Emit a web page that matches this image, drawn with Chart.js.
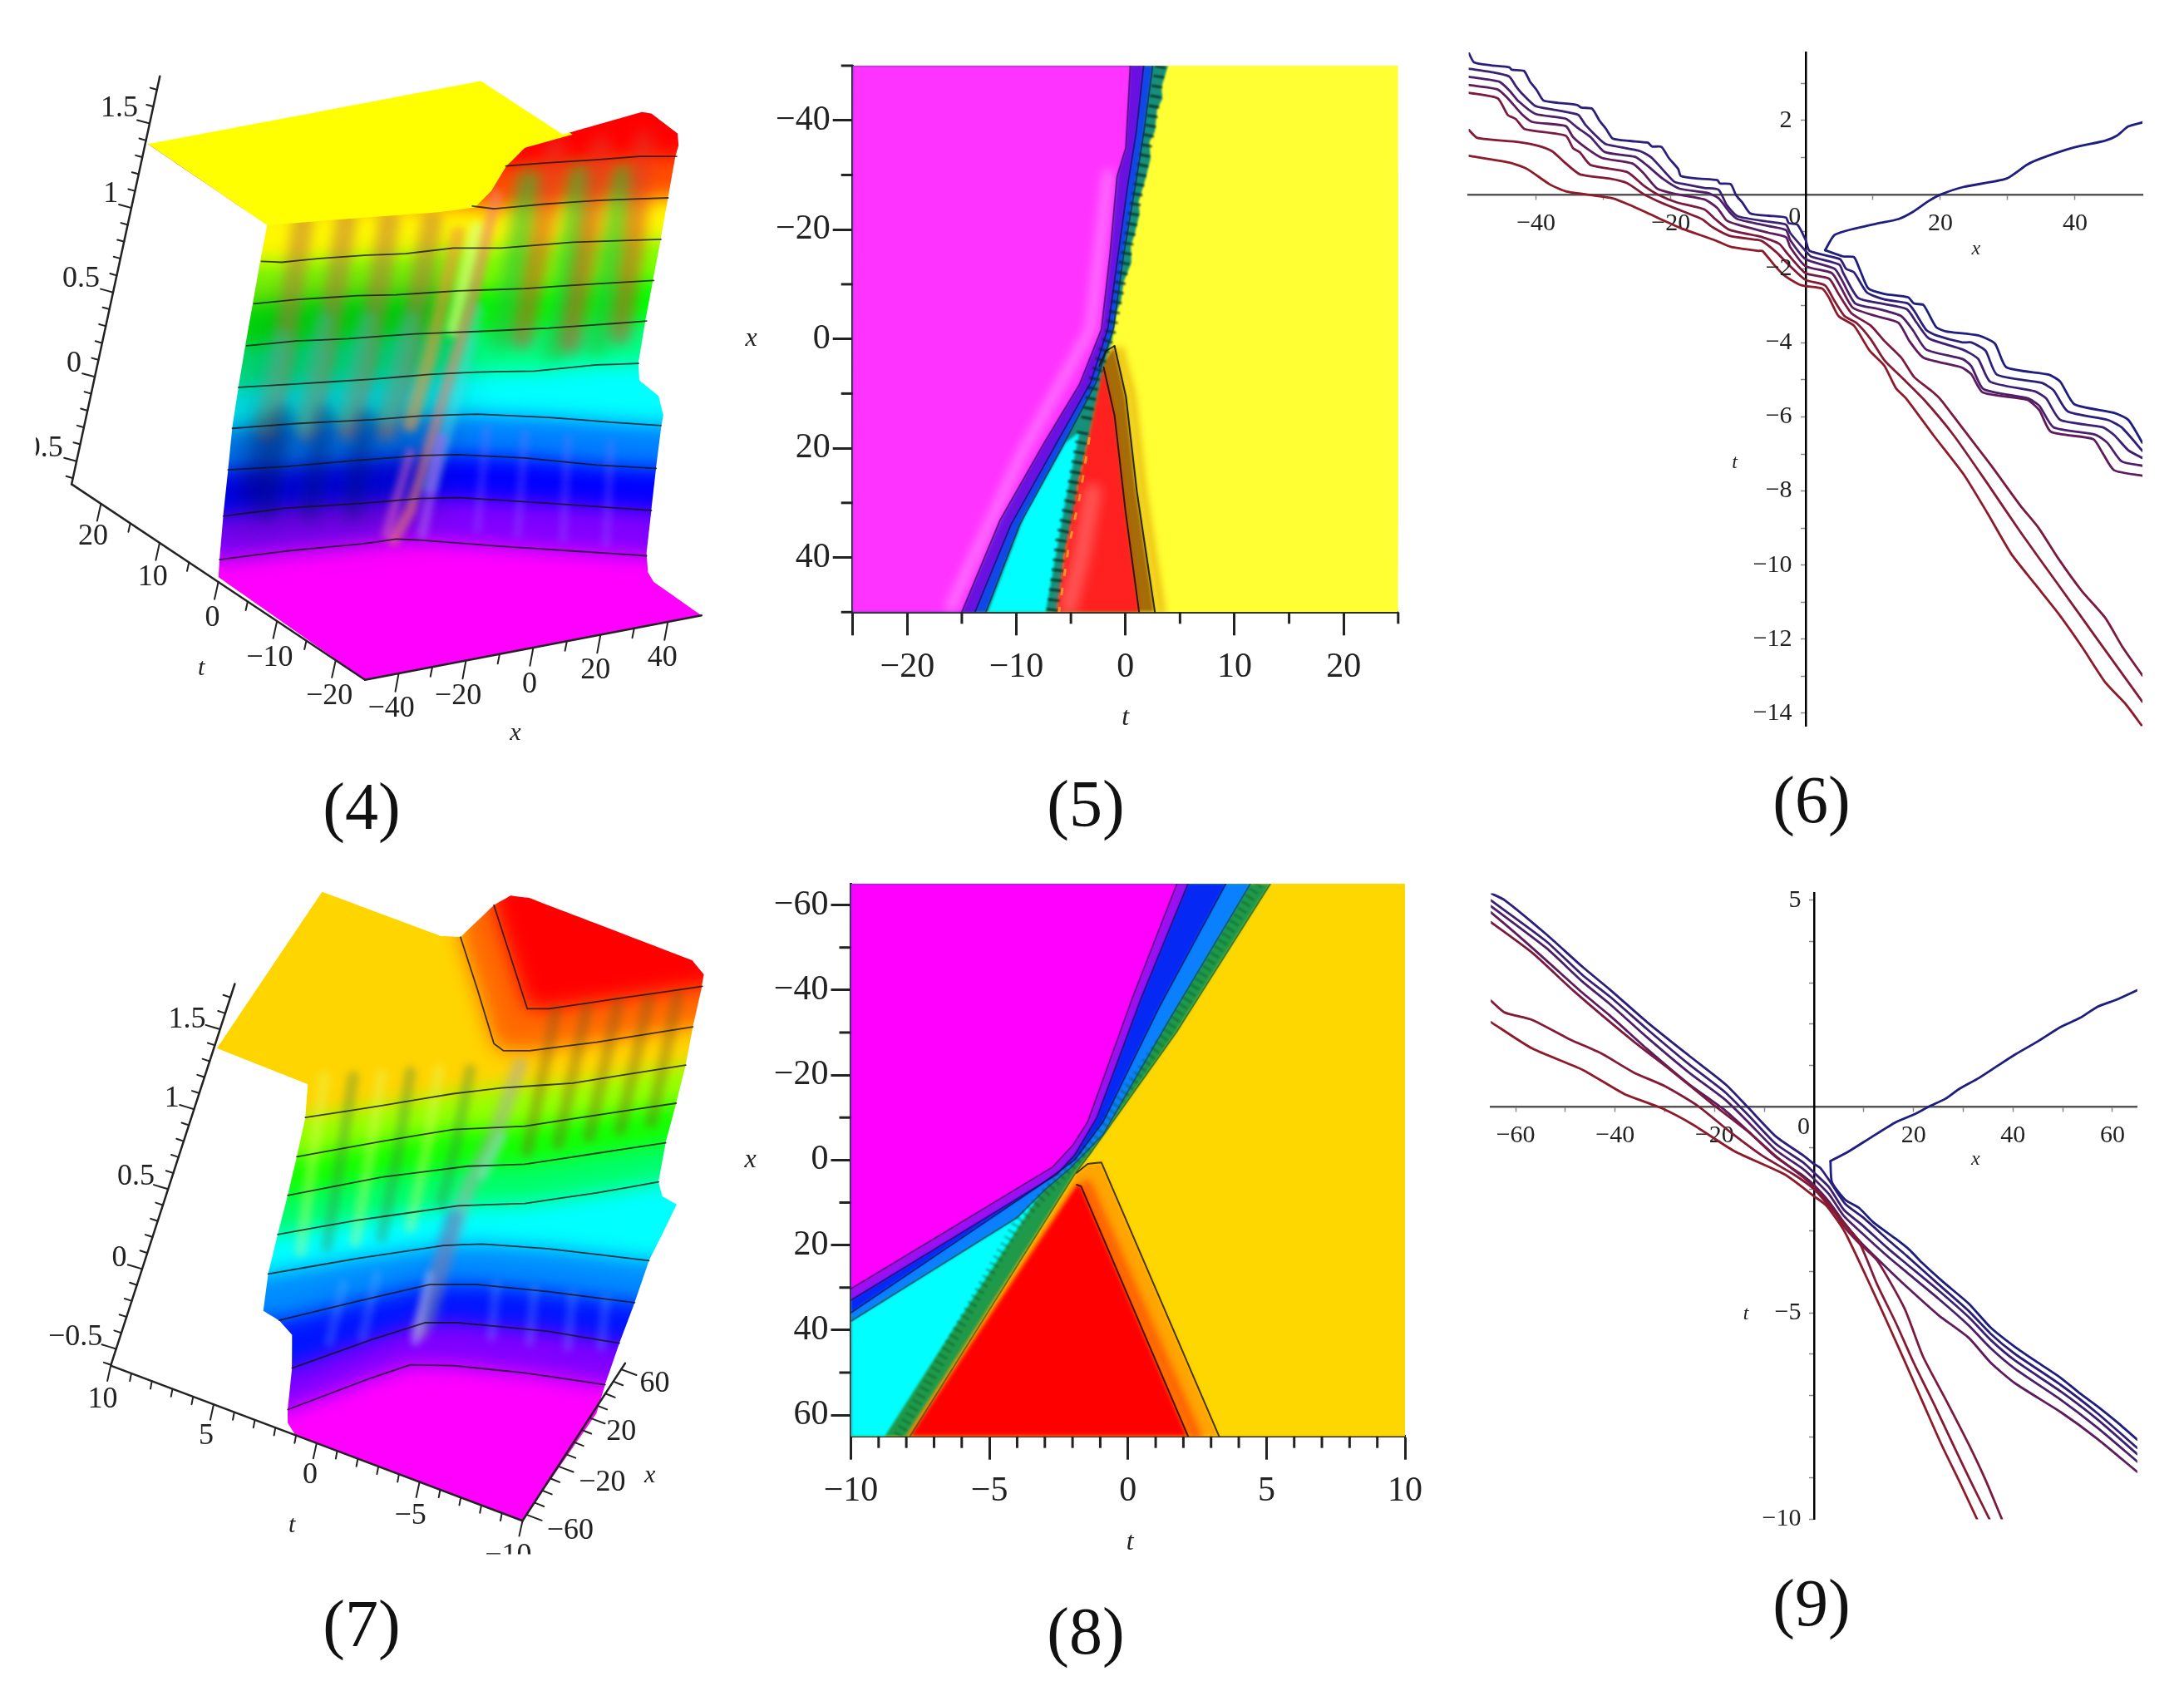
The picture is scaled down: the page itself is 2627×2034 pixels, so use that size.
<!DOCTYPE html>
<html>
<head>
<meta charset="utf-8">
<title>Figure panels 4-9</title>
<script src="https://cdn.jsdelivr.net/npm/chart.js@4/dist/chart.umd.min.js"></script>
<style>
  html, body { margin: 0; background: #fff; }
  #page { position: relative; width: 2627px; height: 2034px; overflow: hidden; background: #fff; }
  canvas { position: absolute; filter: blur(0.6px); }
  .cap { position: absolute; width: 200px; margin-left: -100px; text-align: center; font: 80px/80px "Liberation Serif", serif; color: #111; }
</style>
</head>
<body>
<div id="page">
  <canvas id="p4" width="900" height="900" style="left:0;top:40px"></canvas>
  <canvas id="p7" width="900" height="900" style="left:0;top:1040px"></canvas>
  <canvas id="p5" width="840" height="900" style="left:880px;top:40px"></canvas>
  <canvas id="p8" width="840" height="900" style="left:880px;top:1040px"></canvas>
  <canvas id="p6" width="887" height="900" style="left:1740px;top:40px"></canvas>
  <canvas id="p9" width="867" height="900" style="left:1760px;top:1040px"></canvas>
  <div class="cap" style="left:435px;top:930px">(4)</div>
  <div class="cap" style="left:1306px;top:927px">(5)</div>
  <div class="cap" style="left:2179px;top:922px">(6)</div>
  <div class="cap" style="left:435px;top:1913px">(7)</div>
  <div class="cap" style="left:1306px;top:1922px">(8)</div>
  <div class="cap" style="left:2179px;top:1888px">(9)</div>
</div>
<script>
// ---- panel 6 contours, [x, t] ----
const p6Up = [[2.9,-1.5],[4.3,-1.09],[7.2,-.92],[10.9,-.77],[13.8,-.66],[15.9,-.47],[18.3,-.17],[20,0],[23.5,.21],[29.8,.43],[32.9,.81],[35,.98],[39.6,1.26],[44.5,1.46],[46.2,1.59],[47.9,1.84],[50,1.95]];
const p6V = [[2.9,-1.5],[5.6,-1.67],[7.2,-1.69],[8,-2],[9.3,-2.53],[11.7,-2.68],[15.2,-2.77],[16.1,-2.94],[17.5,-2.98],[19.4,-3.58],[20.8,-3.69],[25.6,-3.8],[28.1,-4.02],[29.8,-4.66],[36.1,-4.86],[37.8,-5.05],[39.9,-5.66],[45.8,-5.89],[47.9,-6.08],[50,-6.7]];
const p6A = [[-50,3.83],[-49.2,3.57],[-46.7,3.49],[-44,3.44],[-43.6,3.37],[-41.8,3.34],[-40.9,3.05],[-39.9,2.82],[-38.9,2.54],[-36.8,2.48],[-33.9,2.42],[-33.3,2.35],[-31.7,2.32],[-30.6,2],[-29.6,1.77],[-28.6,1.51],[-26.1,1.45],[-23.4,1.4],[-22.8,1.3],[-21.4,1.29],[-20.3,.99],[-18.9,.69],[-18.5,.5],[-15.8,.43],[-13.1,.39],[-12.7,.3],[-11.1,.28],[-10.3,-.02],[-9.4,-.21],[-8.2,-.51],[-5.5,-.57],[-2.9,-.62],[-2.5,-.77],[-1.2,-.81],[0,-1.22],[.6,-1.52],[5.1,-1.74],[6,-2],[7.2,-2.1],[9.1,-2.64],[11.7,-2.83],[15.2,-2.94],[16.1,-3.13],[17.9,-3.65],[19.4,-3.8],[23.3,-3.99],[24.6,-3.99],[26.7,-4.21],[28.4,-4.86],[35,-5.08],[36.8,-5.28],[38.9,-5.85],[44.8,-6.08],[46.9,-6.28],[50,-6.92]];
const p6B = [[-50,3.4],[-46.7,3.31],[-44,3.19],[-43,2.93],[-42,2.71],[-40.1,2.39],[-37.6,2.3],[-35.2,2.22],[-33.7,2.15],[-32.7,1.89],[-30.6,1.5],[-29.6,1.36],[-24.5,1.17],[-22.8,.99],[-19.5,.35],[-17.9,.28],[-15,.18],[-12.9,.13],[-11.7,-.28],[-10.1,-.58],[-5.5,-.73],[-2.9,-.81],[-2.3,-1.03],[0,-1.52],[.8,-1.67],[5,-1.89],[5.6,-2.12],[7.8,-2.79],[11.3,-2.94],[15,-3.09],[16.5,-3.46],[18.3,-3.88],[23.3,-4.18],[25.6,-4.43],[27.4,-5.05],[34,-5.31],[35.7,-5.5],[37.8,-6.08],[44.1,-6.28],[45.8,-6.49],[47.9,-6.9],[50,-7.11]];
const p6C = [[-50,3.18],[-45.5,3.05],[-44,2.82],[-42.6,2.52],[-40.1,2.18],[-35.6,2.05],[-33.9,1.81],[-31.9,1.55],[-29.8,1.15],[-25.3,1.02],[-23.6,.8],[-21.2,.43],[-18.7,.16],[-14.6,.05],[-12.9,-.1],[-11.3,-.47],[-10.1,-.66],[-5.5,-.85],[-2.9,-.96],[-2.3,-1.22],[0,-1.74],[4.3,-2],[5.4,-2.31],[7.4,-2.94],[10.9,-3.09],[14.2,-3.28],[15.9,-3.65],[17.9,-4.18],[23.3,-4.44],[24.6,-4.63],[26.4,-5.25],[33,-5.5],[34.7,-5.7],[36.8,-6.28],[43,-6.48],[44.8,-6.7],[46.9,-7.2],[50,-7.32]];
const p6D = [[-50,2.96],[-45.7,2.84],[-44.2,2.6],[-42,2.15],[-40.5,1.96],[-35.6,1.85],[-34.5,1.55],[-32.5,1.25],[-30.2,.99],[-25.7,.84],[-24,.57],[-22,.16],[-19.1,.01],[-15,-.13],[-13.1,-.36],[-11.7,-.7],[-10.1,-.81],[-5.5,-1.03],[-2.9,-1.15],[-2.3,-1.41],[0,-1.93],[3.9,-2.12],[5.2,-2.49],[7,-3.05],[10.5,-3.28],[13.8,-3.46],[15.4,-3.95],[17.5,-4.4],[23.1,-4.66],[24.6,-4.85],[26.3,-5.34],[32.9,-5.54],[34.7,-5.82],[36.4,-6.4],[42.7,-6.6],[44.1,-6.98],[45.8,-7.44],[50,-7.59]];
const p6E = [[-50,2.75],[-45.7,2.6],[-44.2,2.15],[-43,2.04],[-41.7,1.77],[-35.6,1.59],[-34.5,1.25],[-33.5,1.14],[-31.9,.8],[-26.5,.61],[-24,.24],[-22,.01],[-19.1,-.21],[-15,-.4],[-13.4,-.66],[-11.3,-.95],[-6.4,-1.15],[-3.9,-1.33],[-2.7,-1.59],[0,-2.12],[3.5,-2.27],[4.9,-2.68],[6.8,-3.2],[9.7,-3.54],[11.7,-3.95],[14.2,-4.4],[16.1,-4.92],[18.7,-5.3],[20,-5.52],[23.2,-6.28],[27.5,-7.3],[31.9,-8.4],[34.6,-9],[37.5,-9.82],[41,-10.7],[44.5,-11.43],[47,-12.2],[50,-12.98]];
const p6F = [[-50,1.75],[-48.7,1.53],[-42.6,1.42],[-39.7,1.32],[-37.6,1.17],[-36,.91],[-33.5,.55],[-29,.43],[-26.5,.31],[-24,.01],[-22,-.17],[-19.5,-.36],[-15.4,-.66],[-13.8,-.88],[-11.3,-1.11],[-7.2,-1.22],[-6.4,-1.26],[-4.3,-1.56],[-2.9,-1.82],[0,-2.3],[2.9,-2.45],[4.3,-2.87],[5.8,-3.28],[7.6,-3.47],[9.7,-3.91],[11.7,-4.47],[14.2,-4.92],[17.5,-5.52],[22,-6.5],[27,-7.8],[31.9,-9.11],[37.5,-10.53],[43.1,-11.95],[50,-13.69]];
const p6G = [[-50,1.05],[-43.8,.86],[-41.3,.69],[-38,.28],[-35.6,.09],[-32.7,.01],[-28.6,-.1],[-26.1,-.28],[-22,-.62],[-18.3,-.92],[-13.6,-1.22],[-11.1,-1.41],[-7,-1.52],[-6.4,-1.52],[-4.7,-1.89],[-3.3,-2.16],[-1,-2.42],[0,-2.47],[2.5,-2.54],[3.5,-2.79],[4.9,-3.28],[7.2,-3.54],[9.5,-4.21],[11.7,-4.62],[13.4,-5.22],[15,-5.52],[19,-6.5],[23.5,-7.56],[27,-8.6],[30.5,-9.69],[34,-10.5],[37.5,-11.3],[41,-12.2],[44.5,-13.17],[47.5,-13.75],[50,-14.36]];
const p6XTicks = [-40,-30,-20,-10,10,20,30,40];
const p6TTicks = [3,2,1,-1,-2,-3,-4,-5,-6,-7,-8,-9,-10,-11,-12,-13,-14];
const p6TLabels = [2,-2,-4,-6,-8,-10,-12,-14];

// ---- panel 9 contours, [x, t] ----
const p9Up = [[3.3,-1.32],[6.9,-1.09],[11.4,-.75],[16.4,-.38],[20.3,-.18],[23.1,0],[26.4,.19],[29.2,.43],[33.1,.69],[36.8,.98],[40.4,1.26],[45,1.58],[49.6,1.93],[53.5,2.15],[57,2.42],[61,2.6],[65,2.82]];
const p9V = [[3.3,-1.32],[3.6,-1.83],[6.3,-2.26],[9.1,-2.46],[11.9,-2.8],[16.4,-3.2],[19.2,-3.47],[21.7,-3.78],[26,-4.25],[31.1,-4.77],[35.5,-5.35],[40.4,-5.82],[45,-6.2],[49.6,-6.57],[53.5,-6.95],[57,-7.26],[61,-7.65],[65,-8.07]];
const p9A = [[-65,5.17],[-62.2,5],[-53.9,4.18],[-46.5,3.38],[-41,2.83],[-33.6,2.05],[-25.2,1.24],[-17.8,.54],[-13.2,-.03],[-7.7,-.72],[-2.1,-1.19],[0,-1.39],[1.3,-1.49],[3.3,-1.83],[6.3,-2.36],[9.7,-2.67],[15.3,-3.27],[18.6,-3.61],[25,-4.3],[31.1,-4.95],[35.5,-5.5],[40.4,-5.99],[49.6,-6.74],[57,-7.43],[65,-8.27]];
const p9B = [[-65,5],[-53.9,4.01],[-46.5,3.18],[-41,2.66],[-33.6,1.88],[-25.2,1.03],[-17.8,.34],[-13.2,-.21],[-7.7,-.9],[-2.1,-1.36],[0,-1.6],[3,-1.95],[6,-2.5],[9.5,-2.85],[15,-3.45],[18.5,-3.8],[25,-4.45],[31.1,-5.1],[35.5,-5.65],[40.4,-6.15],[49.6,-6.9],[57,-7.58],[65,-8.42]];
const p9C = [[-65,4.86],[-53.9,3.85],[-46.5,3.02],[-41,2.48],[-33.6,1.68],[-25.2,.83],[-17.8,.16],[-13.2,-.38],[-7.7,-1.05],[-2.1,-1.52],[0,-1.75],[3,-2.12],[6,-2.65],[9.5,-3.05],[15,-3.65],[18.5,-4],[25,-4.65],[31.1,-5.3],[35.5,-5.85],[40.4,-6.35],[49.6,-7.1],[57,-7.78],[65,-8.6]];
const p9D = [[-65,4.71],[-60,4.2],[-53.9,3.55],[-46.5,2.75],[-41,2.2],[-33.6,1.4],[-25.2,.55],[-17.8,-.1],[-13.2,-.6],[-7.7,-1.22],[-2.1,-1.68],[0,-1.9],[3,-2.3],[6,-2.8],[9.5,-3.3],[15,-3.95],[18.5,-4.35],[25,-5.05],[31.1,-5.6],[35.5,-6.2],[40.4,-6.7],[49.6,-7.4],[57,-8.05],[65,-8.85]];
const p9E = [[-65,4.47],[-56.6,3.72],[-48.3,2.8],[-36.3,1.58],[-28.9,.89],[-20.6,.08],[-13.2,-.61],[-7.7,-1.2],[-2.1,-1.72],[0,-1.95],[3,-2.35],[6,-2.9],[9,-3.3],[12.7,-3.73],[18.2,-4.89],[21.9,-6.05],[26.5,-7.1],[31.1,-8.18],[34.5,-9.05],[37.8,-10]];
const p9F = [[-65,2.57],[-62.2,2.28],[-56.7,2.1],[-49.3,1.64],[-42.8,1.29],[-36.3,.83],[-29.9,.49],[-23.4,.02],[-16.9,-.61],[-10.4,-1.19],[-4,-1.65],[0,-2],[3.4,-2.46],[9,-3.27],[12.7,-4.31],[16.5,-5.25],[20.1,-6.22],[24.5,-7.3],[28.4,-8.3],[32,-9.2],[35.3,-10]];
const p9G = [[-65,2.05],[-56.7,1.41],[-46.5,.89],[-38.2,.31],[-30.8,-.03],[-24.3,-.44],[-16,-1.08],[-5.8,-1.65],[0,-2.17],[2.5,-2.4],[6.2,-3.04],[11.7,-4.43],[15,-5.3],[18.2,-6.16],[22,-7.2],[25.6,-8.18],[29.5,-9.15],[32.8,-10]];
const p9XTicks = [-60,-50,-40,-30,-20,-10,10,20,30,40,50,60];
const p9TTicks = [5,4,3,2,1,-1,-2,-3,-4,-5,-6,-7,-8,-9,-10];
const p9TLabels = [5,-5,-10];

// ---- panel 5 regions, [t, x] ----
const p5Magenta = [[.45,-50],[.04,-35],[-.77,-29.7],[-1.4,-15.7],[-2.2,-1.75],[-4.2,8.3],[-7.5,19.2],[-11.5,33.2],[-15,50]];
const p5Inner1 = [[1.67,-50],[1,-38],[.2,-28],[-.7,-15],[-1.6,-2],[-3.2,8],[-6.3,19],[-10.5,34],[-13.8,50]];
const p5Inner2 = [[2.5,-50],[1.7,-38],[.9,-28],[-.2,-15],[-1.1,-2],[-2.7,8],[-5.6,19],[-9.7,34],[-12.8,50]];
const p5Yellow = [[3.9,-50],[3.3,-46],[3.4,-44],[2.9,-42],[2.7,-38],[2.2,-36],[2.3,-33],[1.9,-29.7],[1.5,-27],[1.2,-25],[1.3,-23],[.85,-19.2],[.5,-17],[.55,-14],[-.16,-10.5],[-.4,-7],[-.8,-5],[-1.2,0],[-2,5],[-3.2,16.6],[-3.6,20],[-4.4,27],[-4.6,31],[-5.65,40],[-5.8,44],[-6.3,50]];
const p5Cyan = [[-4.2,17],[-5.65,31.5],[-7.3,50],[-12.6,50],[-9.2,32],[-5.5,19]];
const p5Brown = [[-1,1.3],[.04,10.5],[1.05,28],[2.7,50],[-6.3,50],[-2.2,4.5]];
const p5Red = [[-2,5.2],[-1,14],[0,31.5],[1.25,50],[-6.3,50],[-5.65,40],[-4.4,27],[-3.2,16.6]];
const p5Comb1 = [[3.2,-50],[2.4,-40],[1.3,-29],[.4,-19],[-.5,-10],[-1.4,-1],[-2.8,7],[-3.6,15]];
const p5Comb2 = [[-3.9,17],[-4.9,28],[-5.9,37],[-6.7,50]];
const p5Spark = [[-3.3,18],[-4.2,29],[-5.2,38],[-6.1,50]];
const p5Crest = [[-1,1.3],[.04,10.5],[1.05,28],[2.7,50]];
const p5CrestGlow = [[-.5,2],[.6,10.5],[1.6,28],[3.3,50]];
const p5RedEdge = [[-2,5.2],[-1,14],[0,31.5],[1.25,50]];
const p5Apex = [[-2.4,5],[-1.8,2.2],[-1,1.3]];
const p5Glow = [[-1.6,-30],[-2.1,-21],[-3.2,-1.75],[-9.5,21],[-16,49]];
const p5RedGlow = [[-3,28],[-4,39.4],[-5.2,49]];

// ---- panel 8 regions, [t, x] ----
const p8Magenta = [[1.77,-65],[.16,-38.1],[-1.45,-9],[-2,-3.4],[-2.73,1.7],[-10,30.3]];
const p8Purple = [[2.17,-65],[.48,-38.1],[-1.12,-10],[-1.93,-1.1],[-2.57,3.4],[-10,33]];
const p8Blue = [[3.53,-65],[1.12,-35.9],[-.9,-9],[-1.93,0],[-3.2,6],[-10,35.9]];
const p8Azure = [[4.42,-65],[1.4,-32],[-.9,-6],[-2.1,2],[-3,7],[-4,13.5],[-10,37.9]];
const p8Green = [[5.14,-65],[1.77,-30.3],[-1.29,-2.2],[-1.93,3.4],[-7.87,65]];
const p8Cyan = [[-3.05,6.7],[-8.76,65],[-10,65],[-10,37.9],[-4,13.5]];
const p8Orange = [[-8,65],[-1.85,3],[-1.45,.9],[-.96,.56],[3.29,65]];
const p8Red = [[-7.87,65],[-1.85,5.8],[-1.69,6.2],[2.17,65]];
const p8Comb = [[4.7,-65],[1.45,-30.3],[-1.6,-2],[-2.6,5],[-4,15],[-8.3,65]];
const p8Ember = [[-1.5,6],[2.45,65]];

// ---- panel 4 surface, picture plane of the 3D view ----
const s4Outline = [[310,232],[1008,100],[1180,212],[1345,165],[1365,168],[1420,210],[1422,235],[1415,260],[1400,345],[1385,430],[1368,520],[1352,605],[1338,690],[1340,728],[1380,760],[1390,800],[1385,830],[1375,910],[1365,1000],[1355,1090],[1358,1130],[1370,1150],[1470,1220],[765,1355],[458,1140],[460,1105],[468,1010],[478,915],[487,825],[500,740],[515,650],[530,565],[545,480],[560,402]];
const s4Plateau = [[300,225],[1008,90],[1200,212],[1100,240],[1060,280],[1030,330],[995,365],[920,375],[740,388],[560,402]];
const s4Contours = [
  [[1060,278],[1140,272],[1250,265],[1340,258],[1418,258]],
  [[990,362],[1035,368],[1140,358],[1260,350],[1400,345]],
  [[548,478],[590,480],[670,472],[770,465],[850,462],[950,450],[1050,450],[1200,438],[1385,432]],
  [[532,567],[620,558],[750,550],[830,548],[960,540],[1100,535],[1250,525],[1370,518]],
  [[517,655],[620,645],[730,640],[870,630],[1000,625],[1150,618],[1290,608],[1355,603]],
  [[500,742],[620,735],[780,725],[900,715],[1000,710],[1120,708],[1250,695],[1338,692]],
  [[487,828],[620,818],[780,810],[880,802],[1000,798],[1150,805],[1280,815],[1385,822]],
  [[478,915],[600,908],[750,895],[880,885],[960,883],[1100,890],[1250,905],[1375,912]],
  [[468,1012],[600,995],[760,985],[880,975],[960,973],[1150,985],[1365,1000]],
  [[460,1103],[600,1085],[760,1070],[830,1060],[880,1062],[1050,1075],[1200,1085],[1355,1095]]
];
const s4Hues = [18, 58, 90, 120, 150, 180, 210, 240, 270, 300];
const s4Dim = [[470,540],[1000,500],[900,1040],[460,1070]];
const s4Brown = [
  [[635,395],[610,560],[590,690],[560,830]], [[725,395],[700,560],[675,690],[645,830]],
  [[815,395],[790,560],[765,690],[730,830]], [[905,395],[880,540],[850,690],[810,830]]
];
const s4Blue = [[[595,800],[560,1000]], [[680,800],[650,1000]], [[765,810],[740,1000]]];
const s4TealL = [[[680,600],[640,820]], [[590,640],[555,820]], [[770,600],[725,800]], [[860,600],[810,800]]];
const s4Red = [[[1165,240],[1140,400],[1095,640]], [[1260,235],[1235,420],[1195,650]], [[1350,225],[1330,430],[1300,630]]];
const s4Green = [[[1110,310],[1075,520],[1050,640]], [[1215,300],[1185,560],[1160,660]], [[1305,300],[1270,560],[1250,650]]];
const s4Pink = [[1040,340],[990,560],[930,760],[860,1000],[825,1060]];
const s4Lime = [[1000,410],[950,620]];
const s4Orange = [[960,420],[900,680],[860,820]];
const s4Teal = [[1000,580],[955,760],[900,950]];
const s4Violet = [[925,850],[885,1050]];
const s4Rose = [[860,880],[810,1050]];
const s4Navy = [[560,820],[530,960]];
const s4Fine = [[[1020,830],[1000,1040]], [[1100,840],[1085,1050]], [[1190,850],[1180,1060]], [[1280,860],[1270,1070]]];

// ---- panel 7 surface ----
const s7Outline = [[455,385],[675,57],[925,150],[965,152],[1035,85],[1070,65],[1110,70],[1450,200],[1475,230],[1470,260],[1452,340],[1437,420],[1417,500],[1395,583],[1380,665],[1388,695],[1418,712],[1390,770],[1360,830],[1330,918],[1298,1003],[1268,1090],[1250,1150],[1095,1375],[620,1197],[603,1170],[603,1142],[612,1055],[612,985],[585,955],[552,935],[562,858],[582,775],[603,693],[622,612],[640,530],[645,460]];
const s7Contours = [
  [[1035,85],[1105,302],[1150,302],[1300,280],[1472,255]],
  [[965,152],[1000,260],[1035,375],[1055,390],[1110,390],[1250,372],[1452,340]],
  [[640,530],[800,505],[950,480],[1050,468],[1200,458],[1437,420]],
  [[622,612],[800,580],[950,555],[1100,548],[1250,525],[1417,500]],
  [[603,693],[800,655],[980,632],[1100,628],[1250,605],[1395,583]],
  [[582,775],[750,745],[960,715],[1100,710],[1250,688],[1380,665]],
  [[562,858],[750,825],[930,798],[1010,795],[1150,805],[1360,830]],
  [[585,955],[750,915],[900,880],[1000,880],[1150,895],[1330,918]],
  [[612,1055],[780,995],[890,960],[960,960],[1150,978],[1298,1003]],
  [[603,1142],[780,1075],[860,1048],[950,1050],[1100,1065],[1268,1090]]
];
const s7Hues = [25, 50, 85, 115, 145, 180, 207, 235, 270, 300];
const s7Light = [[[680,445],[655,620],[630,810]], [[800,440],[775,610],[745,790]], [[920,430],[895,590],[860,760]]];
const s7Dark = [[[740,445],[715,610],[685,800]], [[860,435],[835,600],[800,780]], [[985,430],[955,590],[925,710]]];
const s7Right = [[[1165,305],[1105,600]], [[1230,298],[1170,585]], [[1295,290],[1235,570]], [[1360,280],[1300,555]], [[1420,275],[1365,540]]];
const s7Low = [[[720,880],[690,1000]], [[790,860],[760,990]], [[1040,880],[1030,990]], [[1120,890],[1110,1000]], [[1200,900],[1190,1010]], [[1270,910],[1260,1010]]];
const s7Grey = [[1090,420],[1040,560],[980,680],[930,820],[880,980]];
const s7Mint = [[1050,570],[1010,650]];
const s7Indigo = [[950,740],[900,950]];
const s7Pale = [[900,860],[870,1000]];

// ---- axis tick labels ----
const p4Z = [-.5, 0, .5, 1, 1.5];
const p4T = [20, 10, 0, -10, -20];
const p4X = [-40, -20, 0, 20, 40];
const p7Z = [-.5, 0, .5, 1, 1.5];
const p7T = [10, 5, 0, -5, -10];
const p7X = [-60, -20, 20, 60];
const p5TTicks = [-25, -20, -10, 0, 10, 20];
const p5XTicks = [-40, -20, 0, 20, 40];
const p8TTicks = [-10, -5, 0, 5, 10];
const p8XTicks = [-60, -40, -20, 0, 20, 40, 60];

const INK = '#222';
const SERIF = '"Liberation Serif", serif';
const levelColors = ['#1e1e80', '#2c1f7c', '#3c2074', '#4c1f6a', '#5e1c5c', '#7a1a40', '#851a35', '#8e1a2a'];

function area(pts, color, blur) {
  return { data: pts, showLine: true, fill: 'shape', backgroundColor: color, borderWidth: 0, borderColor: 'transparent',
    pointRadius: 0, tension: 0.001, capBezierPoints: false, blur: blur || 0 };
}
function stroke(pts, color, width, blur, dash) {
  return { data: pts, showLine: true, fill: false, borderColor: color, borderWidth: width, borderCapStyle: dash ? 'butt' : 'round', borderJoinStyle: 'round',
    borderDash: dash || [], pointRadius: 0, tension: 0.001, capBezierPoints: false, blur: blur || 0 };
}

// draw helper: blur for the next dataset, minor ticks and loose text
function extras(notes, minor) {
  const setBlur = (chart, i) => {
    const ds = chart.data.datasets[i];
    chart.ctx.filter = ds && ds.blur ? 'blur(' + ds.blur + 'px)' : 'none';
  };
  return {
    id: 'extras',
    beforeDatasetsDraw(chart) { setBlur(chart, chart.data.datasets.length - 1); },
    afterDatasetDraw(chart, args) { setBlur(chart, args.index - 1); },
    afterDatasetsDraw(chart) { chart.ctx.filter = 'none'; },
    afterDraw(chart) {
      const ctx = chart.ctx, sx = chart.scales.x, sy = chart.scales.y;
      ctx.save();
      ctx.strokeStyle = INK;
      ctx.lineWidth = 3;
      (minor && minor.x || []).forEach(v => {
        const p = sx.getPixelForValue(v);
        ctx.beginPath(); ctx.moveTo(p, sy.bottom); ctx.lineTo(p, sy.bottom + minor.len); ctx.stroke();
      });
      (minor && minor.y || []).forEach(v => {
        const p = sy.getPixelForValue(v);
        ctx.beginPath(); ctx.moveTo(sx.left, p); ctx.lineTo(sx.left - minor.len, p); ctx.stroke();
      });
      ctx.restore();
      (notes || []).forEach(n => {
        ctx.save();
        if (n.clip) {
          const x0 = sx.getPixelForValue(n.clip[0]), y0 = sy.getPixelForValue(n.clip[1]);
          const x1 = sx.getPixelForValue(n.clip[2]), y1 = sy.getPixelForValue(n.clip[3]);
          ctx.beginPath(); ctx.rect(x0, y0, x1 - x0, y1 - y0); ctx.clip();
        }
        ctx.font = (n.italic ? 'italic ' : '') + n.size + 'px ' + SERIF;
        ctx.fillStyle = INK;
        ctx.textAlign = n.align || 'center';
        ctx.textBaseline = 'middle';
        ctx.fillText(n.text, sx.getPixelForValue(n.x), sy.getPixelForValue(n.y));
        ctx.restore();
      });
    }
  };
}

const minus = v => (v < 0 ? '\u2212' + Math.abs(v) : String(v));
const fixBox = (size, prop) => s => {
  s[prop] = size;
  s.paddingLeft = s.paddingRight = s.paddingTop = s.paddingBottom = 0;
};
const useTicks = values => s => { s.ticks = values.map(v => ({ value: v })); };

// ---- 3D views ----
function axisLine(a) { return [a.from, a.to]; }
function tickMarks(a, values, dir) {
  const out = [];
  values.forEach(v => {
    const f = (v - a.lo) / (a.hi - a.lo);
    const x = a.from[0] + f * (a.to[0] - a.from[0]), y = a.from[1] + f * (a.to[1] - a.from[1]);
    out.push([x, y], [x + dir[0], y + dir[1]], [NaN, NaN]);
  });
  return out;
}
function below(c) {   // everything under a contour, used to lay the colours from the top down
  const first = c[0], last = c[c.length - 1];
  const head = first[1] < 200 ? [[-100, 1700], [-100, -100], [first[0], -100]] : [[-100, 1700], [-100, first[1]]];
  return head.concat(c, [[1700, last[1]], [1700, 1700]]);
}
function outsideOf(outline) {
  const start = outline[0];
  return [[0, 0], [0, 1568], [1568, 1568], [1568, 0], [0, 0]].concat(outline, [start, [0, 0]]);
}
function surfaceChart(id, sets, notes) {
  new Chart(document.getElementById(id), {
    type: 'scatter',
    data: { datasets: sets.slice().reverse() },
    options: {
      responsive: false, animation: false, devicePixelRatio: 1,
      plugins: { legend: { display: false }, tooltip: { enabled: false } },
      layout: { padding: 0 },
      scales: {
        x: { type: 'linear', min: 0, max: 1568, display: false },
        y: { type: 'linear', min: 0, max: 1568, reverse: true, display: false }
      }
    },
    plugins: [extras(notes)]
  });
}
const hue = h => 'hsl(' + h + ',100%,50%)';
function rainbow(contours, hues, blur) {
  return contours.map((c, i) => area(below(c), hue(hues[i]), blur));
}
function contourLines(contours) {
  return contours.map(c => stroke(c, 'rgba(20,20,20,.8)', 1.8));
}

const z4 = { from: [150,945], to: [335,90], lo: -.636, hi: 1.78 };
const t4 = { from: [150,945], to: [765,1355], lo: 25, hi: -25 };
const x4 = { from: [765,1355], to: [1470,1220], lo: -50, hi: 50 };
const z4Minor = [-.6,-.4,-.3,-.2,-.1,.1,.2,.3,.4,.6,.7,.8,.9,1.1,1.2,1.3,1.4,1.6,1.7];
surfaceChart('p4', [
  area([[0,0],[1568,0],[1568,1568],[0,1568]], '#ff0000'),
  ...rainbow(s4Contours, s4Hues, 12),
  area(s4Dim, 'rgba(0,20,50,.22)', 25),
  ...s4Brown.map(s => stroke(s, 'rgba(185,105,70,.48)', 26, 7)),
  ...s4TealL.map(s => stroke(s, 'rgba(0,215,190,.35)', 22, 7)),
  ...s4Blue.map(s => stroke(s, 'rgba(0,20,100,.3)', 26, 8)),
  stroke(s4Navy, 'rgba(0,0,90,.3)', 30, 10),
  ...s4Green.map(s => stroke(s, 'rgba(40,190,60,.6)', 30, 9)),
  ...s4Red.map(s => stroke(s, 'rgba(225,60,40,.5)', 26, 8)),
  stroke(s4Orange, 'rgba(240,150,60,.6)', 18, 5),
  stroke(s4Lime, 'rgba(220,255,120,.7)', 18, 5),
  stroke(s4Teal, 'rgba(90,220,220,.45)', 18, 5),
  stroke(s4Pink, 'rgba(240,130,110,.6)', 14, 4),
  stroke(s4Rose, 'rgba(220,100,190,.55)', 12, 4),
  stroke(s4Violet, 'rgba(170,90,240,.65)', 12, 4),
  ...s4Fine.map(s => stroke(s, 'rgba(150,120,255,.25)', 10, 4)),
  area(s4Plateau, '#ffff00'),
  area(outsideOf(s4Outline), '#ffffff'),
  ...contourLines(s4Contours),
  stroke(axisLine(z4), INK, 2.5), stroke(axisLine(t4), INK, 2.5), stroke(axisLine(x4), INK, 2.5),
  stroke(tickMarks(z4, p4Z, [-26,-7]), INK, 2), stroke(tickMarks(z4, z4Minor, [-14,-4]), INK, 2),
  stroke(tickMarks(t4, p4T, [-8,36]), INK, 2), stroke(tickMarks(t4, [15,5,-5,-15], [-4,18]), INK, 2),
  stroke(tickMarks(x4, p4X, [-7,38]), INK, 2), stroke(tickMarks(x4, [-30,-10,10,30], [-4,20]), INK, 2)
], [
  { text: '1.5', x: 250, y: 158, size: 36 }, { text: '1', x: 232, y: 338, size: 36 }, { text: '0.5', x: 170, y: 515, size: 36 },
  { text: '0', x: 155, y: 692, size: 36 }, { text: '\u22120.5', x: 75, y: 870, size: 36, clip: [75, 800, 200, 950] },
  { text: '20', x: 195, y: 1055, size: 36 }, { text: '10', x: 320, y: 1140, size: 36 }, { text: '0', x: 445, y: 1225, size: 36 },
  { text: '\u221210', x: 565, y: 1310, size: 36 }, { text: '\u221220', x: 690, y: 1390, size: 36 },
  { text: '\u221240', x: 820, y: 1415, size: 36 }, { text: '\u221220', x: 960, y: 1390, size: 36 }, { text: '0', x: 1110, y: 1365, size: 36 },
  { text: '20', x: 1248, y: 1335, size: 36 }, { text: '40', x: 1388, y: 1310, size: 36 },
  { text: 't', x: 422, y: 1332, size: 30, italic: true }, { text: 'x', x: 1080, y: 1468, size: 30, italic: true }
]);

const z7 = { from: [232,1050], to: [492,250], lo: -.605, hi: 1.784 };
const t7 = { from: [232,1050], to: [1095,1375], lo: 10, hi: -10 };
const x7 = { from: [1095,1375], to: [1310,1045], lo: -65, hi: 65 };
surfaceChart('p7', [
  area([[0,0],[1568,0],[1568,1568],[0,1568]], '#ff0000'),
  ...rainbow(s7Contours, s7Hues, 12),
  ...s7Light.map(s => stroke(s, 'rgba(230,255,100,.35)', 14, 5)),
  ...s7Dark.map(s => stroke(s, 'rgba(60,130,70,.35)', 14, 5)),
  ...s7Right.map(s => stroke(s, 'rgba(120,90,30,.35)', 15, 5)),
  ...s7Low.map(s => stroke(s, 'rgba(130,190,255,.22)', 12, 4)),
  stroke(s7Grey, 'rgba(170,170,170,.55)', 18, 6),
  stroke(s7Mint, 'rgba(130,230,190,.55)', 14, 5),
  stroke(s7Indigo, 'rgba(60,90,200,.4)', 22, 6),
  stroke(s7Pale, 'rgba(190,200,255,.4)', 10, 4),
  area(outsideOf(s7Outline), '#ffffff'),
  ...contourLines(s7Contours),
  stroke(axisLine(z7), INK, 2.5), stroke(axisLine(t7), INK, 2.5), stroke(axisLine(x7), INK, 2.5),
  stroke(tickMarks(z7, p7Z, [-30,-9]), INK, 2), stroke(tickMarks(z7, z4Minor, [-15,-5]), INK, 2),
  stroke(tickMarks(t7, p7T, [-7,32]), INK, 2), stroke(tickMarks(t7, [9,8,7,6,4,3,2,1,-1,-2,-3,-4,-6,-7,-8,-9], [-3,16]), INK, 2),
  stroke(tickMarks(x7, p7X, [32,12]), INK, 2), stroke(tickMarks(x7, [-50,-40,-30,-10,0,10,30,40,50], [20,8]), INK, 2)
], [
  { text: '1.5', x: 392, y: 325, size: 36 }, { text: '1', x: 360, y: 490, size: 36 }, { text: '0.5', x: 285, y: 655, size: 36 },
  { text: '0', x: 250, y: 825, size: 36 }, { text: '\u22120.5', x: 158, y: 990, size: 36 },
  { text: '10', x: 215, y: 1122, size: 36 }, { text: '5', x: 432, y: 1198, size: 36 }, { text: '0', x: 650, y: 1280, size: 36 },
  { text: '\u22125', x: 860, y: 1365, size: 36 }, { text: '\u221210', x: 1065, y: 1448, size: 36, clip: [950, 1400, 1200, 1445] },
  { text: '60', x: 1372, y: 1088, size: 36 }, { text: '20', x: 1302, y: 1190, size: 36 },
  { text: '\u221220', x: 1262, y: 1295, size: 36 }, { text: '\u221260', x: 1195, y: 1397, size: 36 },
  { text: 't', x: 612, y: 1385, size: 30, italic: true }, { text: 'x', x: 1362, y: 1280, size: 30, italic: true }
]);

// ---- density panels ----
function densityChart(id, sets, cfg) {
  new Chart(document.getElementById(id), {
    type: 'scatter',
    data: { datasets: sets.slice().reverse() },
    options: {
      responsive: false, animation: false, devicePixelRatio: 1,
      plugins: { legend: { display: false }, tooltip: { enabled: false } },
      layout: { padding: cfg.padding },
      scales: {
        x: {
          type: 'linear', min: cfg.tRange[0], max: cfg.tRange[1], position: 'bottom',
          afterBuildTicks: useTicks(cfg.tTicks),
          afterFit: fixBox(cfg.xHeight, 'height'),
          border: { color: INK, width: 3 },
          grid: { drawOnChartArea: false, tickLength: 28, tickWidth: 3, tickColor: INK },
          ticks: {
            autoSkip: false, maxRotation: 0, padding: 13, color: INK, font: { family: SERIF, size: 42 },
            callback: v => (v === -25 ? '' : minus(v))
          }
        },
        y: {
          type: 'linear', min: cfg.xRange[0], max: cfg.xRange[1], reverse: true, position: 'left',
          afterBuildTicks: useTicks(cfg.xTicks),
          afterFit: fixBox(cfg.yWidth, 'width'),
          border: { color: INK, width: 3 },
          grid: { drawOnChartArea: false, tickLength: 24, tickWidth: 3, tickColor: INK },
          ticks: {
            autoSkip: false, padding: 3, color: INK, font: { family: SERIF, size: 42 },
            callback: v => minus(v)
          }
        }
      }
    },
    plugins: [extras(cfg.notes, cfg.minor)]
  });
}
const leftOf = (b, tMin, xMin, xMax) => b.concat([[tMin, xMax], [tMin, xMin]]);

densityChart('p5', [
  area([[-25,-50],[25,-50],[25,50],[-25,50]], '#ffff33'),
  stroke(p5CrestGlow, 'rgba(225,150,0,.65)', 9, 4),
  area(p5Brown, '#a66c08', 2),
  area(leftOf(p5Yellow, -25, -50, 50), '#17907a', 1),
  area(p5Cyan, '#00ffff', 1.5),
  area(leftOf(p5Inner2, -25, -50, 50), '#1048e8', 1.5),
  area(leftOf(p5Inner1, -25, -50, 50), '#6a10e0', 1.5),
  area(leftOf(p5Magenta, -25, -50, 50), '#ff33ff', 1.5),
  stroke(p5Glow, 'rgba(255,190,255,.4)', 14, 6),
  area(p5Red, '#ff2020', 2),
  stroke(p5RedGlow, 'rgba(255,150,150,.45)', 20, 7),
  stroke(p5Comb1, 'rgba(0,30,15,.7)', 13, 0.8, [3, 9]),
  stroke(p5Comb2, 'rgba(0,30,15,.75)', 14, 0.8, [3, 9]),
  stroke(p5Spark, 'rgba(255,170,40,.8)', 3, 0.5, [9, 14]),
  stroke(p5Magenta, 'rgba(60,10,90,.7)', 1.8),
  stroke(p5Inner1, 'rgba(20,10,90,.7)', 1.8),
  stroke(p5Inner2, 'rgba(10,50,70,.7)', 1.8),
  stroke(p5Crest, 'rgba(20,15,0,.85)', 2),
  stroke(p5RedEdge, 'rgba(30,10,0,.85)', 2),
  stroke(p5Apex, 'rgba(30,20,0,.85)', 2)
], {
  padding: { top: 39, right: 38.2, left: 0, bottom: 0 }, xHeight: 203.7, yWidth: 145.7,
  tRange: [-25, 25], xRange: [-50, 50], tTicks: p5TTicks, xTicks: p5XTicks,
  minor: { len: 14, x: [-15, -5, 5, 15, 25], y: [-50, -30, -10, 10, 30, 50] },
  notes: [{ text: 'x', x: -34.3, y: 0, size: 32, italic: true }, { text: 't', x: 0, y: 69.4, size: 32, italic: true }]
});

densityChart('p8', [
  area([[-10,-65],[10,-65],[10,65],[-10,65]], '#ffd700'),
  area(leftOf(p8Green, -10, -65, 65), '#1f9a4a', 1.5),
  area(p8Cyan, '#00ffff', 1.5),
  area(leftOf(p8Azure, -10, -65, 65), '#0a80ff', 1.5),
  area(leftOf(p8Blue, -10, -65, 65), '#0528f5', 1.5),
  area(leftOf(p8Purple, -10, -65, 65), '#9a10f0', 1.5),
  area(leftOf(p8Magenta, -10, -65, 65), '#ff00ff', 1.5),
  area(p8Orange, '#ffa500', 2),
  stroke(p8Ember, 'rgba(255,80,0,.8)', 14, 5),
  area(p8Red, '#ff0000', 2.5),
  stroke(p8Comb, 'rgba(10,70,30,.35)', 12, 1, [3, 6]),
  stroke(p8Magenta, 'rgba(60,10,90,.7)', 1.8),
  stroke(p8Purple, 'rgba(30,10,90,.7)', 1.8),
  stroke(p8Blue, 'rgba(10,20,90,.75)', 1.8),
  stroke(p8Azure, 'rgba(20,60,90,.6)', 1.8),
  stroke(p8Green, 'rgba(10,80,40,.6)', 1.8),
  stroke(p8Orange.slice(1), 'rgba(40,30,0,.85)', 2),
  stroke(p8Red.slice(1), 'rgba(40,10,0,.85)', 2)
], {
  padding: { top: 23, right: 30, left: 0, bottom: 0 }, xHeight: 212.3, yWidth: 143.5,
  tRange: [-10, 10], xRange: [-65, 65], tTicks: p8TTicks, xTicks: p8XTicks,
  minor: { len: 14, x: [-9,-8,-7,-6,-4,-3,-2,-1,1,2,3,4,6,7,8,9], y: [-50, -30, -10, 10, 30, 50] },
  notes: [{ text: 'x', x: -13.63, y: 0, size: 32, italic: true }, { text: 't', x: 0.07, y: 90.1, size: 32, italic: true }]
});

// ---- contour panels ----
function contourChart(id, lines, cfg) {
  const sets = lines.map((l, i) => {
    const d = stroke(l, levelColors[cfg.colorOf[i]], 2.8);
    d.tension = 0.2;
    return d;
  });
  const labelNotes = cfg.tLabels.map(v => ({ text: minus(v), x: cfg.labelX, y: v, size: 30, align: 'right' }));
  new Chart(document.getElementById(id), {
    type: 'scatter',
    data: { datasets: sets.slice().reverse() },
    options: {
      responsive: false, animation: false, devicePixelRatio: 1,
      plugins: { legend: { display: false }, tooltip: { enabled: false } },
      layout: { padding: cfg.padding },
      scales: {
        x: {
          type: 'linear', min: cfg.xRange[0], max: cfg.xRange[1], position: { y: 0 },
          afterBuildTicks: useTicks(cfg.xTicks),
          afterFit: fixBox(0, 'height'),
          border: { color: '#555', width: 2.5 },
          grid: { drawOnChartArea: false, tickLength: 5, tickWidth: 1.5, tickColor: '#888' },
          ticks: {
            autoSkip: false, maxRotation: 0, padding: 12, color: INK, font: { family: SERIF, size: 30 },
            callback: v => (v % 20 === 0 ? minus(v) : '')
          }
        },
        y: {
          type: 'linear', min: cfg.tRange[0], max: cfg.tRange[1], position: { x: 0 },
          afterBuildTicks: useTicks(cfg.tTicks),
          afterFit: fixBox(0, 'width'),
          border: { color: '#000', width: 2.5 },
          grid: { drawOnChartArea: false, tickLength: 5, tickWidth: 1.5, tickColor: '#888' },
          ticks: { display: false }
        }
      }
    },
    plugins: [extras(labelNotes.concat(cfg.notes))]
  });
}
contourChart('p6', [p6Up, p6V, p6A, p6B, p6C, p6D, p6E, p6F, p6G], {
  colorOf: [0, 0, 1, 2, 3, 4, 5, 6, 7],
  padding: { left: 26.6, right: 50, top: 23, bottom: 66.5 },
  xRange: [-50, 50], tRange: [-14.35, 3.84], xTicks: p6XTicks, tTicks: p6TTicks, tLabels: p6TLabels, labelX: -2,
  notes: [{ text: '0', x: -1.6, y: -.6, size: 30 }, { text: 'x', x: 25.3, y: -1.48, size: 24, italic: true }, { text: 't', x: -10.5, y: -7.24, size: 24, italic: true }]
});
contourChart('p9', [p9Up, p9V, p9A, p9B, p9C, p9D, p9E, p9F, p9G], {
  colorOf: [0, 0, 1, 2, 3, 4, 5, 6, 7],
  padding: { left: 33.2, right: 56.2, top: 34.4, bottom: 112.4 },
  xRange: [-65, 65], tRange: [-10, 5.17], xTicks: p9XTicks, tTicks: p9TTicks, tLabels: p9TLabels, labelX: -2.6,
  notes: [{ text: '0', x: -2.1, y: -.5, size: 30 }, { text: 'x', x: 32.5, y: -1.28, size: 24, italic: true }, { text: 't', x: -13.7, y: -5.03, size: 24, italic: true }]
});
</script>
</body>
</html>
